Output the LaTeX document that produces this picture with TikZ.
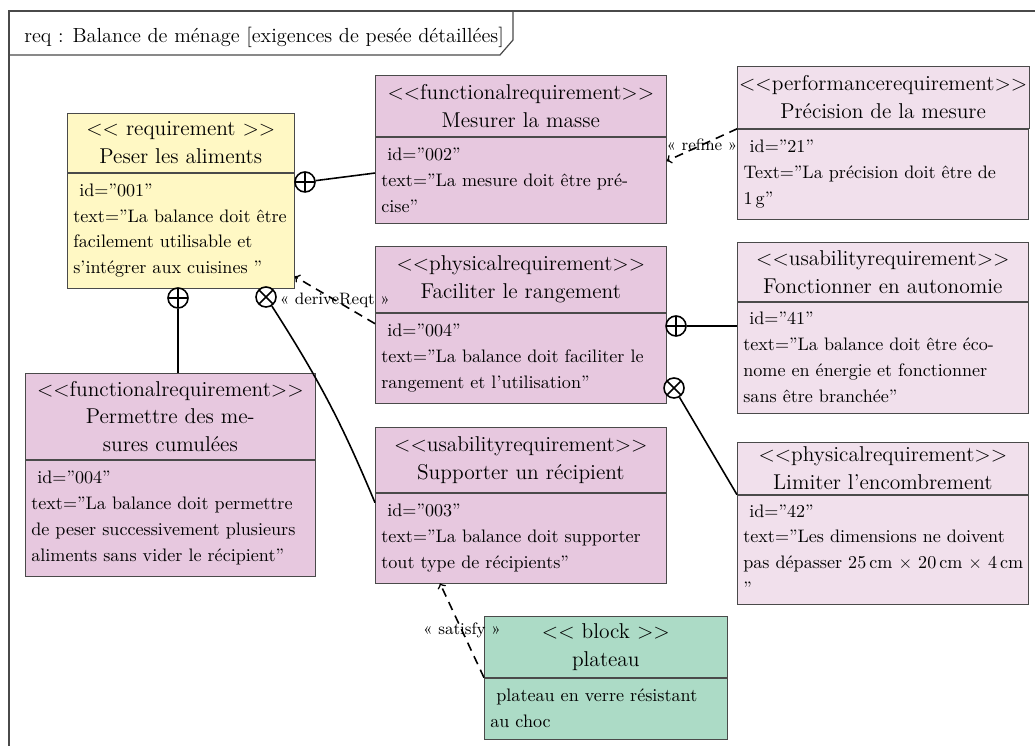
\documentclass[tikz,border=0pt]{standalone}
\usetikzlibrary{arrows,positioning}

\definecolor{reqyellow}{HTML}{FFF8C4}
\definecolor{reqpink}{HTML}{E7C8DF}
\definecolor{reqlight}{HTML}{F1E0EC}
\definecolor{blockgreen}{HTML}{ACDBC6}
\definecolor{framegray}{HTML}{4A4A4A}

\begin{document}
\begin{tikzpicture}[x=0.02cm, y=-0.02cm,
        frame/.style={draw=framegray, line width=0.7pt},
        hdr/.style={draw=framegray, anchor=north west, align=center, inner sep=1pt,
            minimum width=#1, font=\fontsize{12.2}{15.8}\selectfont},
        bdy/.style={draw=framegray, align=left, inner xsep=0.12cm, inner ysep=1pt,
            text width=#1, minimum width=#1+0.24cm, font=\fontsize{10.3}{14.7}\selectfont},
        circ/.style={circle, draw, fill=white, line width=0.9pt, minimum size=0.4cm, inner sep=0pt},
        contain/.style={circ, path picture={\draw[line width=0.9pt]
            (path picture bounding box.north) -- (path picture bounding box.south)
            (path picture bounding box.west) -- (path picture bounding box.east);}},
        xcontain/.style={circ, path picture={\draw[line width=0.9pt]
            (path picture bounding box.north west) -- (path picture bounding box.south east)
            (path picture bounding box.south west) -- (path picture bounding box.north east);}},
        link/.style={line width=0.9pt},
        dep/.style={->, line width=0.9pt, dash pattern=on 5pt off 3.5pt},
        stereo/.style={font=\fontsize{9.4}{10}\selectfont, inner sep=1pt}]


        %===========================
        % Frame
        %===========================
        \useasboundingbox (0,0) rectangle (1035,746);
        \draw[frame] (9,760) -- (9,11) -- (1050,11);
        \draw[frame] (9,55) -- (500,55) -- (513,40) -- (513,11);
        \node (title) at (24,43) [anchor=base west, inner sep=0pt, font=\fontsize{11.6}{14}\selectfont]
            {req : Balance de ménage [exigences de pesée détaillées]};


        %===========================
        % Requirements
        %===========================
        % Left column
        \node (H1) at (67,113) [hdr=4.54cm, fill=reqyellow, minimum height=1.18cm]
            {<{}< requirement >{}>\\Peser les aliments};
        \node (T1) [bdy=4.30cm, fill=reqyellow, minimum height=2.30cm, below=0pt of H1]
            {\ id="001"\\\mbox{text="La balance doit être}\\facilement utilisable et\\s'intégrer aux cuisines~"\\[4pt]};

        \node (H7) at (25,373) [hdr=5.80cm, fill=reqpink, minimum height=1.72cm]
            {<{}<functionalrequirement>{}>\\Permettre des me-\\sures cumulées};
        \node (T7) [bdy=5.56cm, fill=reqpink, minimum height=2.32cm, below=0pt of H7]
            {\ id="004"\\text="La balance doit permettre\\\mbox{de peser successivement plusieurs}\\aliments sans vider le récipient"};

        % Middle column
        \node (H2) at (375,75) [hdr=5.82cm, fill=reqpink, minimum height=1.22cm]
            {<{}<functionalrequirement>{}>\\Mesurer la masse};
        \node (T2) [bdy=5.58cm, fill=reqpink, minimum height=1.72cm, below=0pt of H2]
            {\ id="002"\\text="La mesure doit être pré-\\cise"};

        \node (H3) at (375,246) [hdr=5.82cm, fill=reqpink, minimum height=1.32cm]
            {<{}<physicalrequirement>{}>\\Faciliter le rangement};
        \node (T3) [bdy=5.58cm, fill=reqpink, minimum height=1.80cm, below=0pt of H3]
            {\ id="004"\\text="La balance doit faciliter le\\rangement et l'utilisation"};

        \node (H8) at (375,427) [hdr=5.82cm, fill=reqpink, minimum height=1.30cm]
            {<{}<usabilityrequirement>{}>\\Supporter un récipient};
        \node (T8) [bdy=5.58cm, fill=reqpink, minimum height=1.80cm, below=0pt of H8]
            {\ id="003"\\text="La balance doit supporter\\tout type de récipients"};

        % Right column
        \node (H4) at (737,66) [hdr=5.82cm, fill=reqlight, minimum height=1.24cm]
            {<{}<performancerequirement>{}>\\Précision de la mesure};
        \node (T4) [bdy=5.58cm, fill=reqlight, minimum height=1.80cm, below=0pt of H4]
            {\ id="21"\\Text="La précision doit être de\\1\,g"};

        \node (H5) at (737,242) [hdr=5.82cm, fill=reqlight, minimum height=1.18cm]
            {<{}<usabilityrequirement>{}>\\Fonctionner en autonomie};
        \node (T5) [bdy=5.58cm, fill=reqlight, minimum height=2.22cm, below=0pt of H5]
            {\ id="41"\\text="La balance doit être éco-\\nome en énergie et fonctionner\\sans être branchée"};

        \node (H6) at (737,442) [hdr=5.82cm, fill=reqlight, minimum height=1.04cm]
            {<{}<physicalrequirement>{}>\\Limiter l'encombrement};
        \node (T6) [bdy=5.58cm, fill=reqlight, minimum height=2.18cm, below=0pt of H6]
            {\ id="42"\\text="Les dimensions ne doivent\\\mbox{pas dépasser 25\,cm $\times$ 20\,cm $\times$ 4\,cm}\\"};


        %===========================
        % Block
        %===========================
        \node (H9) at (484,616) [hdr=4.86cm, fill=blockgreen, minimum height=1.22cm]
            {<{}< block >{}>\\plateau};
        \node (T9) [bdy=4.62cm, fill=blockgreen, minimum height=1.22cm, below=0pt of H9]
            {\ plateau en verre résistant\\au choc};


        %===========================
        % Containment
        %===========================
        \node (c1) at (305,182) [contain] {};
        \draw[link] (c1) -- ([yshift=0.14cm]T2.west);
        \node (c2) at (178,298) [contain] {};
        \draw[link] (c2) -- (c2 |- H7.north);
        \node (c3) at (266,297) [xcontain] {};
        \draw[link] (c3) to[bend left=5] ([yshift=-0.2cm]T8.north west);
        \node (c4) at (676,326) [contain] {};
        \draw[link] (c4) -- (c4 -| T5.west);
        \node (c5) at (674,388) [xcontain] {};
        \draw[link] (c5) -- (T6.north west);


        %===========================
        % Dependencies
        %===========================
        \draw[dep] ([yshift=-0.22cm]T3.north west) -- ([yshift=0.24cm]T1.south east)
            node[stereo, midway] {« deriveReqt »};
        \draw[dep] (T4.north west) -- ([yshift=0.38cm]T2.east)
            node[stereo, midway] {« refine »};
        \draw[dep] (T9.north west) -- ([xshift=1.3cm]T8.south west)
            node[stereo, midway] {« satisfy »};

\end{tikzpicture}
\end{document}
